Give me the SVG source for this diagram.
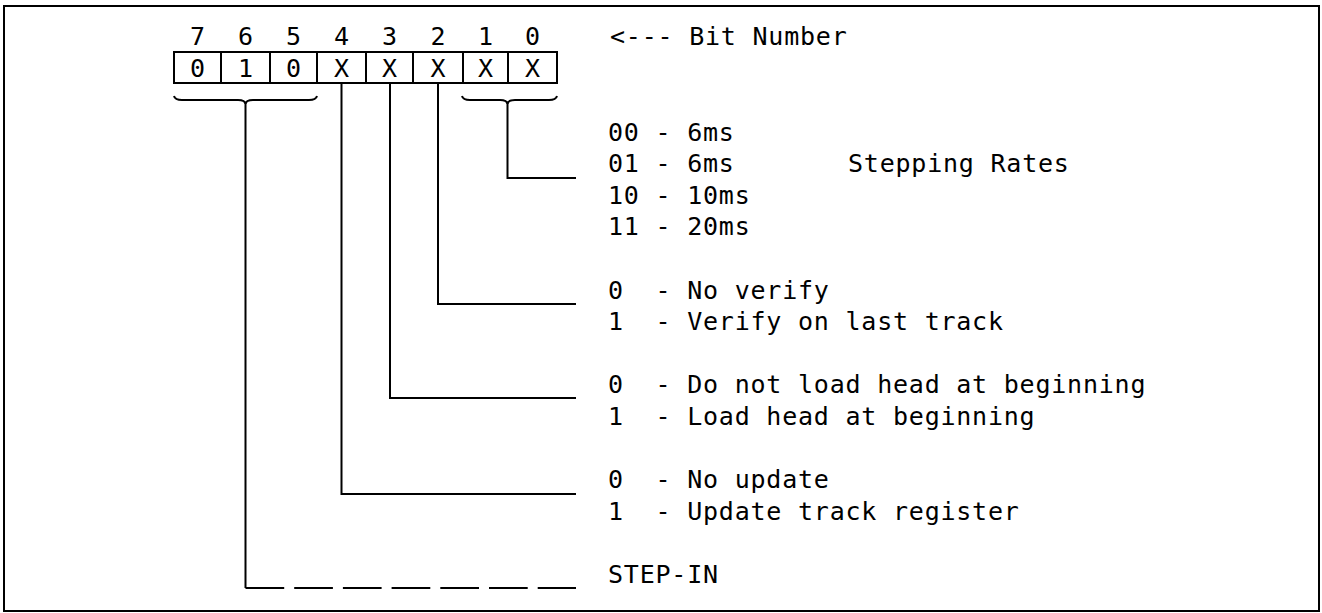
<svg xmlns="http://www.w3.org/2000/svg" width="1322" height="613" viewBox="0 0 1322 613" xml:space="preserve">
<style>
  text { font-family: "DejaVu Sans Mono", "Liberation Mono", monospace; font-size: 25px; letter-spacing: 0.78px; fill: #000; white-space: pre; }
  .c { text-anchor: middle; letter-spacing: 0; }
  .ln { fill: none; stroke: #000; stroke-width: 2; }
  .cell { fill: #fff; stroke: #000; stroke-width: 2; }
</style>
<rect x="0" y="0" width="1322" height="613" fill="#fff"/>
<rect id="frame" x="4" y="6" width="1315" height="605" class="ln"/>

<g id="register">
  <g id="bitnumbers">
    <text class="c" x="197.5" y="45">7</text>
    <text class="c" x="245.5" y="45">6</text>
    <text class="c" x="293.5" y="45">5</text>
    <text class="c" x="341.5" y="45">4</text>
    <text class="c" x="389.5" y="45">3</text>
    <text class="c" x="438" y="45">2</text>
    <text class="c" x="485.5" y="45">1</text>
    <text class="c" x="532.5" y="45">0</text>
  </g>
  <g id="cells">
    <rect class="cell" x="174" y="52" width="47" height="31"/>
    <rect class="cell" x="221" y="52" width="49" height="31"/>
    <rect class="cell" x="270" y="52" width="47" height="31"/>
    <rect class="cell" x="317" y="52" width="49" height="31"/>
    <rect class="cell" x="366" y="52" width="47" height="31"/>
    <rect class="cell" x="413" y="52" width="50" height="31"/>
    <rect class="cell" x="463" y="52" width="45" height="31"/>
    <rect class="cell" x="508" y="52" width="49" height="31"/>
    <text class="c" x="197.5" y="77">0</text>
    <text class="c" x="245.5" y="77">1</text>
    <text class="c" x="293.5" y="77">0</text>
    <text class="c" x="341.5" y="77">X</text>
    <text class="c" x="389.5" y="77">X</text>
    <text class="c" x="438" y="77">X</text>
    <text class="c" x="485.5" y="77">X</text>
    <text class="c" x="532.5" y="77">X</text>
  </g>
</g>

<g id="label-bitnumber"><text x="610" y="45">&lt;--- Bit Number</text></g>

<g id="stepping-rates">
  <text x="608" y="141">00 - 6ms</text>
  <text x="608" y="172">01 - 6ms</text>
  <text x="608" y="204">10 - 10ms</text>
  <text x="608" y="235">11 - 20ms</text>
  <text x="848" y="172">Stepping Rates</text>
</g>

<g id="verify">
  <text x="608" y="299">0  - No verify</text>
  <text x="608" y="330">1  - Verify on last track</text>
</g>

<g id="headload">
  <text x="608" y="393">0  - Do not load head at beginning</text>
  <text x="608" y="425">1  - Load head at beginning</text>
</g>

<g id="update">
  <text x="608" y="488">0  - No update</text>
  <text x="608" y="520">1  - Update track register</text>
</g>

<g id="stepin"><text x="608" y="583">STEP-IN</text></g>

<g id="connectors">
  <path class="ln" d="M174,96 Q175,100 182,100 H238 Q245,100 245.5,104 Q246,100 253,100 H309 Q316,100 317,96"/>
  <path class="ln" d="M462,96 Q463,100 470,100 H500 Q507,100 507.5,104 Q508,100 515,100 H549 Q556,100 557,96"/>
  <path class="ln" d="M507.5,103 V178 H576"/>
  <path class="ln" d="M438,83 V304 H576"/>
  <path class="ln" d="M390,83 V398 H576"/>
  <path class="ln" d="M341.5,83 V494 H576"/>
  <path class="ln" d="M245.5,103 V588"/>
  <path class="ln" d="M245.5,588 H576" stroke-dasharray="38.7 10"/>
</g>
</svg>
